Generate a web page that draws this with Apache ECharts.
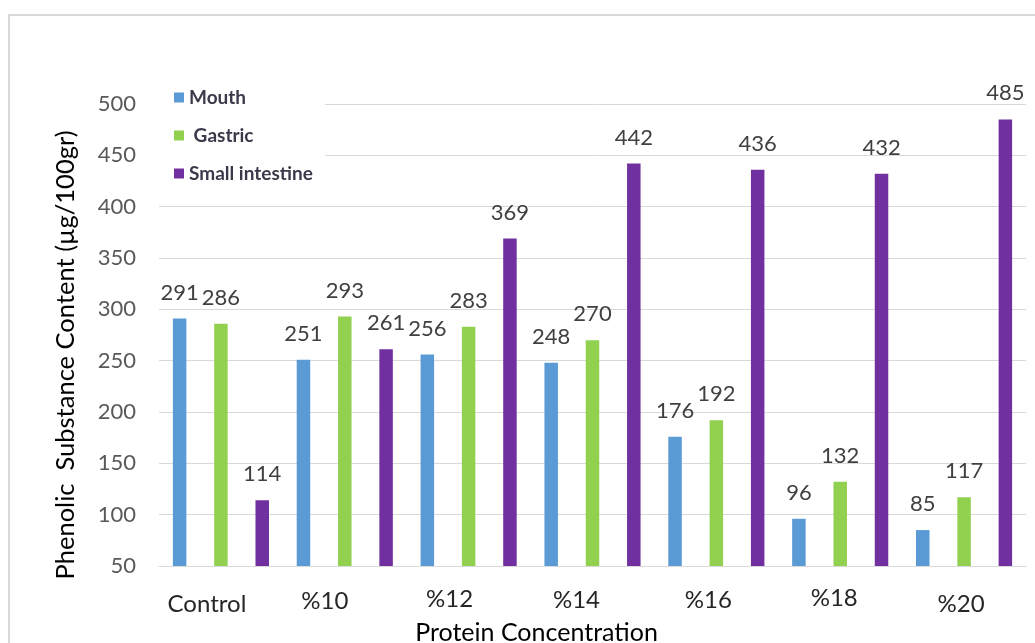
<!DOCTYPE html>
<html>
<head>
<meta charset="utf-8">
<script src="https://cdn.jsdelivr.net/npm/echarts@6/dist/echarts.min.js"></script>
<style>
  html, body { margin: 0; padding: 0; background: #fff; }
  #chart { width: 1035px; height: 643px; }
</style>
</head>
<body>
<div id="chart"></div>
<script>
// Protein concentration groups on the x axis
const categories = ['Control', '%10', '%12', '%14', '%16', '%18', '%20'];

// Phenolic substance content (µg/100gr) per digestion stage
const mouth = [291, 251, 256, 248, 176, 96, 85];
const gastric = [286, 293, 283, 270, 192, 132, 117];
const smallIntestine = [114, 261, 369, 442, 436, 432, 485];

const yTicks = [50, 100, 150, 200, 250, 300, 350, 400, 450, 500];

const FONT = 'Lato, "Open Sans", sans-serif';

// Per-label nudges for the category labels: [down, right-padding]
const labelNudge = [[6, 28], [3, 40], [1, 38], [2, 32], [2, 16], [0, 12], [6, 6]];
const rich = {};
labelNudge.forEach(function (n, i) {
  rich['c' + i] = {
    fontFamily: FONT, fontSize: 24, color: '#262626',
    padding: [n[0], n[1], 0, 0]
  };
});

const chart = echarts.init(document.getElementById('chart'));

function barSeries(name, data, color) {
  return {
    name: name,
    type: 'bar',
    data: data,
    barWidth: 13.5,
    barGap: '206%',
    itemStyle: { color: color },
    label: {
      show: true,
      position: 'top',
      distance: 15,
      color: '#404040',
      fontFamily: FONT,
      fontSize: 22
    }
  };
}

chart.setOption({
  animation: false,
  backgroundColor: '#fff',
  graphic: [{
    type: 'rect',
    shape: { x: 9, y: 15, width: 1100, height: 700 },
    style: { fill: 'none', stroke: '#d9d9d9', lineWidth: 2 },
    silent: true
  }],
  grid: {
    left: 159, right: 9, top: 104, bottom: 77,
    containLabel: false,
    outerBoundsMode: 'none'
  },
  legend: {
    orient: 'vertical',
    left: 158,
    top: 84,
    padding: [4, 12, 6, 16],
    itemGap: 19,
    itemWidth: 10,
    itemHeight: 10,
    icon: 'rect',
    backgroundColor: '#fff',
    textStyle: { fontFamily: FONT, fontSize: 19, color: '#3a3a4a', fontWeight: 'bold' },
    formatter: function (name) { return name === 'Gastric' ? ' ' + name : name; },
    data: ['Mouth', 'Gastric', 'Small intestine'],
    z: 10
  },
  xAxis: {
    type: 'category',
    data: categories,
    axisTick: { show: false },
    axisLine: { lineStyle: { color: '#d9d9d9', width: 1 } },
    axisLabel: {
      margin: 20,
      formatter: function (v, i) { return '{c' + i + '|' + v + '}'; },
      rich: rich
    },
    name: 'Protein Concentration',
    nameLocation: 'middle',
    nameGap: 53,
    nameTextStyle: {
      fontFamily: FONT, fontSize: 25, color: '#000',
      padding: [0, 112, 0, 0]
    }
  },
  yAxis: {
    type: 'value',
    min: yTicks[0],
    max: yTicks[yTicks.length - 1],
    interval: 50,
    axisLine: { show: false },
    axisTick: { show: false },
    splitLine: { lineStyle: { color: '#d9d9d9', width: 1 } },
    axisLabel: {
      margin: 23,
      fontFamily: FONT, fontSize: 22, color: '#595959'
    },
    name: 'Phenolic  Substance Content (µg/100gr)',
    nameLocation: 'middle',
    nameGap: 80,
    nameTextStyle: {
      fontFamily: FONT, fontSize: 25.5, color: '#000',
      padding: [0, 40, 0, 0]
    }
  },
  series: [
    barSeries('Mouth', mouth, '#5B9BD5'),
    barSeries('Gastric', gastric, '#92D050'),
    barSeries('Small intestine', smallIntestine, '#7030A0')
  ]
});
</script>
</body>
</html>
